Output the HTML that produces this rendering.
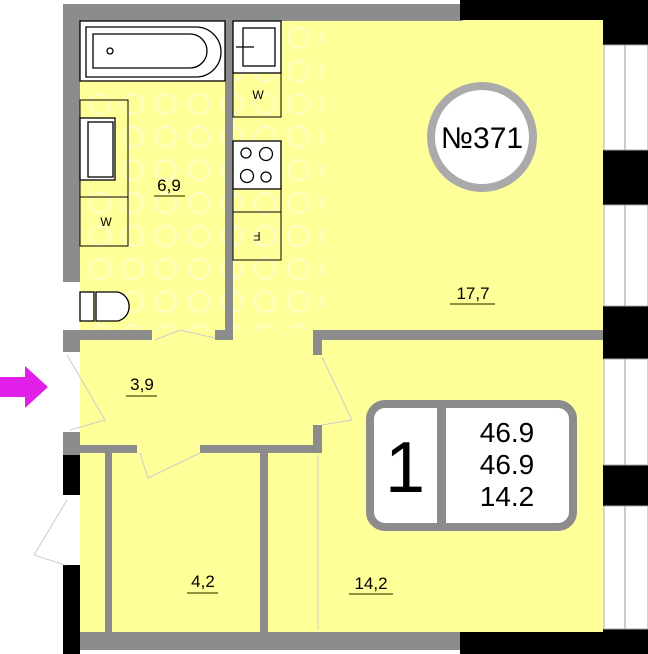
<!DOCTYPE html>
<html><head><meta charset="utf-8"><style>
html,body{margin:0;padding:0;background:#fff;}
svg{display:block;font-family:"Liberation Sans",sans-serif;}
</style></head><body>
<svg width="648" height="654" viewBox="0 0 648 654" xmlns="http://www.w3.org/2000/svg">
<defs>
<pattern id="dots" x="84" y="22" width="33" height="33" patternUnits="userSpaceOnUse">
<circle cx="16" cy="16" r="10" fill="none" stroke="#fdfdc8" stroke-width="2"/>
</pattern>
</defs>
<rect x="80" y="20" width="523" height="612" fill="#ffff99"/>
<rect x="80" y="81" width="145" height="250" fill="url(#dots)"/>
<rect x="233" y="20" width="90" height="310" fill="url(#dots)"/>
<g fill="#8c8c8c">
<rect x="63" y="4" width="400" height="17"/>
<rect x="63" y="4" width="17" height="278"/>
<rect x="63" y="330" width="17" height="22"/>
<rect x="63" y="432" width="17" height="23"/>
<rect x="225" y="20" width="8" height="320"/>
<rect x="63" y="330" width="89" height="10"/>
<rect x="215" y="330" width="18" height="10"/>
<rect x="313" y="330" width="290" height="10"/>
<rect x="313" y="330" width="9" height="25"/>
<rect x="313" y="425" width="9" height="28"/>
<rect x="63" y="445" width="74" height="8"/>
<rect x="200" y="445" width="122" height="8"/>
<rect x="105" y="453" width="7" height="180"/>
<rect x="260" y="453" width="8" height="180"/>
<rect x="80" y="632" width="383" height="18"/>
</g>
<g fill="#000">
<rect x="460" y="0" width="188" height="20"/>
<rect x="603" y="0" width="45" height="45"/>
<rect x="603" y="150" width="45" height="55"/>
<rect x="603" y="306" width="45" height="53"/>
<rect x="603" y="465" width="45" height="41"/>
<rect x="603" y="629" width="45" height="25"/>
<rect x="460" y="632" width="188" height="22"/>
<rect x="63" y="455" width="17" height="40"/>
<rect x="63" y="565" width="17" height="89"/>
</g>
<g fill="#fff" stroke="#aaa" stroke-width="1">
<rect x="604" y="45" width="44" height="105"/>
<rect x="604" y="205" width="44" height="101"/>
<rect x="604" y="359" width="44" height="106"/>
<rect x="604" y="506" width="44" height="123"/>
</g>
<g stroke="#999" stroke-width="1">
<line x1="625" y1="45" x2="625" y2="150"/><line x1="625" y1="205" x2="625" y2="306"/>
<line x1="625" y1="359" x2="625" y2="465"/><line x1="625" y1="506" x2="625" y2="629"/>
</g>
<rect x="63" y="282" width="17" height="48" fill="#fff"/>
<rect x="63" y="352" width="17" height="80" fill="#fff"/>
<rect x="63" y="495" width="17" height="70" fill="#fff"/>
<g fill="none" stroke="#ccc" stroke-width="1">
<path d="M67 355 L105 420 L70 430"/>
<path d="M67 500 L34 555 L65 565"/>
<path d="M155 340 L180 330 L215 338"/>
<path d="M140 453 L148 478 L200 453"/>
<path d="M322 357 L352 420 L322 425"/>
<line x1="318" y1="455" x2="318" y2="630"/>
</g>
<g fill="#fff" stroke="#000" stroke-width="1.3">
<rect x="80" y="21" width="145" height="60"/>
<path d="M86 27 H196 A25 25 0 0 1 196 77 H86 Z"/>
<path d="M93 34 H190 A15 15 0 0 1 190 68 H93 Z"/>
<circle cx="110" cy="51" r="3"/>
<rect x="233" y="21" width="48" height="52"/>
<rect x="243" y="28" width="32" height="38"/>
<line x1="236" y1="47" x2="254" y2="47"/>
<rect x="233" y="141" width="48" height="48"/>
<circle cx="246" cy="153" r="5"/><circle cx="266" cy="154" r="6.5"/>
<circle cx="247" cy="176" r="6.5"/><circle cx="266" cy="177" r="5"/>
<rect x="80" y="118" width="35" height="62"/>
<rect x="88" y="122" width="25" height="55"/>
<rect x="80" y="292" width="14" height="29"/>
<path d="M96 292 H118 A15 15 0 0 1 118 321 H96 Z"/>
</g>
<g fill="none" stroke="#000" stroke-width="1">
<rect x="233" y="73" width="48" height="44"/>
<rect x="233" y="189" width="48" height="23"/>
<rect x="233" y="212" width="48" height="48"/>
<rect x="80" y="100" width="48" height="97"/>
<rect x="80" y="197" width="48" height="49"/>
</g>
<g font-size="12" fill="#000" text-anchor="middle">
<text x="258" y="99">W</text>
<text x="106" y="226">W</text>
<text x="257" y="240" transform="rotate(180 257 236)">F</text>
</g>
<g font-size="17" fill="#000" text-anchor="middle">
<text x="169" y="191">6,9</text>
<text x="473" y="299">17,7</text>
<text x="142" y="390">3,9</text>
<text x="203" y="587">4,2</text>
<text x="371" y="589">14,2</text>
</g>
<g stroke="#6b6b20" stroke-width="1.5">
<line x1="154" y1="196" x2="185" y2="196"/>
<line x1="450" y1="304" x2="495" y2="304"/>
<line x1="126" y1="396" x2="157" y2="396"/>
<line x1="187" y1="593" x2="218" y2="593"/>
<line x1="349" y1="594" x2="393" y2="594"/>
</g>
<ellipse cx="482" cy="137" rx="51" ry="51" fill="#fff" stroke="#aaa" stroke-width="8"/>
<text x="482" y="148" font-size="30" text-anchor="middle" fill="#000">№371</text>
<rect x="370" y="404" width="203" height="123" rx="15" fill="#fff" stroke="#8c8c8c" stroke-width="8"/>
<rect x="437" y="404" width="9" height="123" fill="#8c8c8c"/>
<text x="405" y="492" font-size="72" text-anchor="middle" fill="#000">1</text>
<g font-size="28" text-anchor="middle" fill="#000">
<text x="507" y="442">46.9</text>
<text x="507" y="474">46.9</text>
<text x="507" y="506">14.2</text>
</g>
<polygon points="0,377 25,377 25,366 48,387 25,408 25,397 0,397" fill="#e020e8"/>
</svg>
</body></html>
